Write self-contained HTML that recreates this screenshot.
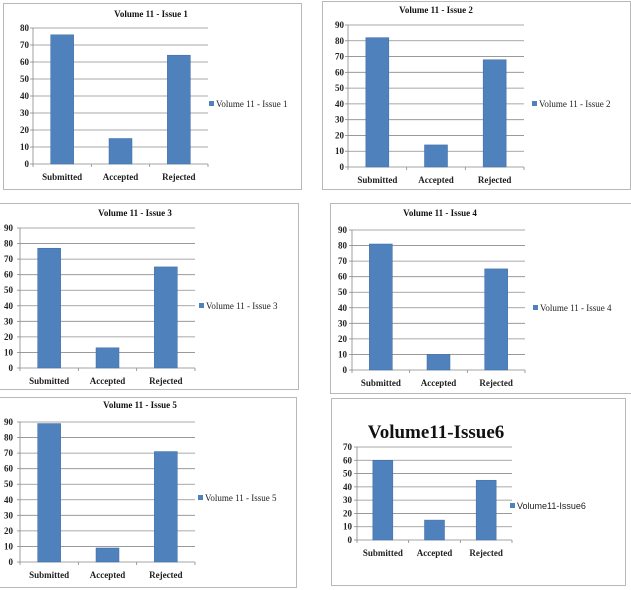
<!DOCTYPE html>
<html><head><meta charset="utf-8"><style>
html,body{margin:0;padding:0;background:#fff;}
svg{display:block;font-family:"Liberation Serif",serif;}
</style></head><body>
<svg id="c" width="631" height="590" viewBox="0 0 631 590"></svg>
<script>
const categories = ["Submitted","Accepted","Rejected"];
const issue1 = [76,15,64];
const issue2 = [82,14,68];
const issue3 = [77,13,65];
const issue4 = [81,10,65];
const issue5 = [89,9,71];
const issue6 = [60,15,45];
const ticks80 = [0,10,20,30,40,50,60,70,80];
const ticks90 = [0,10,20,30,40,50,60,70,80,90];
const ticks70 = [0,10,20,30,40,50,60,70];
const titles = ["Volume 11 - Issue 1","Volume 11 - Issue 2","Volume 11 - Issue 3","Volume 11 - Issue 4","Volume 11 - Issue 5","Volume11-Issue6"];

const NS="http://www.w3.org/2000/svg";
const svg=document.getElementById('c');
function mk(tag,attrs,parent){const e=document.createElementNS(NS,tag);for(const k in attrs)e.setAttribute(k,attrs[k]);(parent||svg).appendChild(e);return e;}

const layouts=[
 {vals:issue1,ticks:ticks80,box:[3,3,298,186],x0:33,x1:208,y0:164,yTop:28,barW:23,tx:151,ty:17,lx:209,ly:104,fs:9,tfs:9,big:false,ylx:29},
 {vals:issue2,ticks:ticks90,box:[322,1,308,188],x0:348,x1:524,y0:167,yTop:25,barW:23,tx:436,ty:13,lx:532,ly:104,fs:9,tfs:9,big:false,ylx:344},
 {vals:issue3,ticks:ticks90,box:[-2,203,300,186],x0:20,x1:195,y0:368,yTop:228,barW:23,tx:135,ty:216,lx:199,ly:306,fs:9,tfs:9,big:false,ylx:13},
 {vals:issue4,ticks:ticks90,box:[330,203,301,190],x0:352,x1:525,y0:370,yTop:230,barW:23,tx:440,ty:216,lx:533,ly:308,fs:9,tfs:9,big:false,ylx:347},
 {vals:issue5,ticks:ticks90,box:[-2,397,298,190],x0:20,x1:195,y0:562,yTop:422,barW:23,tx:140,ty:408,lx:198,ly:498,fs:9,tfs:9,big:false,ylx:13},
 {vals:issue6,ticks:ticks70,box:[331,398,294,187],x0:357,x1:512,y0:540,yTop:447,barW:20,tx:436,ty:438,lx:510,ly:506,fs:9,tfs:19,big:true,ylx:352}
];

layouts.forEach((L,i)=>{
  const g=mk('g',{});
  
  
  const b=L.box;
  const box=mk('rect',{x:b[0]+0.5,y:b[1]+0.5,width:b[2],height:b[3],fill:'#fff',stroke:'#b8b8b8','stroke-width':1},g);
  
  
  const max=L.ticks[L.ticks.length-1];
  const yS=v=>L.y0-(v/max)*(L.y0-L.yTop);
  const band=(L.x1-L.x0)/categories.length;
  const xC=k=>L.x0+band*(k+0.5);
  L.ticks.forEach(t=>{
    const y=yS(t);
    if(t>0){const gl=mk('line',{x1:L.x0,x2:L.x1,y1:y,y2:y,stroke:'#8c8c8c','stroke-width':0.8},g);
      }
    mk('line',{x1:L.x0-3,x2:L.x0,y1:y,y2:y,stroke:'#888','stroke-width':0.8},g);
    const tl=mk('text',{x:L.ylx,y:y+3,'text-anchor':'end','font-size':L.fs,'font-weight':'bold',fill:'#222'},g);
    tl.textContent=t;
    
  });
  mk('line',{x1:L.x0,x2:L.x0,y1:L.yTop,y2:L.y0,stroke:'#888','stroke-width':0.8},g);
  mk('line',{x1:L.x0,x2:L.x1,y1:L.y0,y2:L.y0,stroke:'#888','stroke-width':0.8},g);
  for(let k=0;k<=categories.length;k++){const x=L.x0+band*k;mk('line',{x1:x,x2:x,y1:L.y0,y2:L.y0+3,stroke:'#888','stroke-width':0.8},g);}
  L.vals.forEach((v,k)=>{
    const r=mk('rect',{x:xC(k)-L.barW/2,y:yS(v),width:L.barW,height:L.y0-yS(v),fill:'#4f81bd',stroke:'#3d6aa3','stroke-width':0.5},g);
    
    
    const cl=mk('text',{x:xC(k),y:L.y0+16,'text-anchor':'middle','font-size':L.fs,'font-weight':'bold',fill:'#222'},g);
    cl.textContent=categories[k];
    
  });
  const tt=mk('text',{x:L.tx,y:L.ty,'text-anchor':'middle','font-size':L.tfs,'font-weight':'bold',fill:'#111'},g);
  tt.textContent=titles[i];
  
  const lm=mk('rect',{x:L.lx,y:L.ly-3,width:5,height:5,fill:'#4f81bd'},g);
  
  const lt=mk('text',{x:L.lx+7,y:L.ly+3,'font-size':L.fs,fill:'#222','font-family':L.big?'Liberation Sans, sans-serif':'Liberation Serif, serif'},g);
  lt.textContent=titles[i];
  
});
</script>
</body></html>
